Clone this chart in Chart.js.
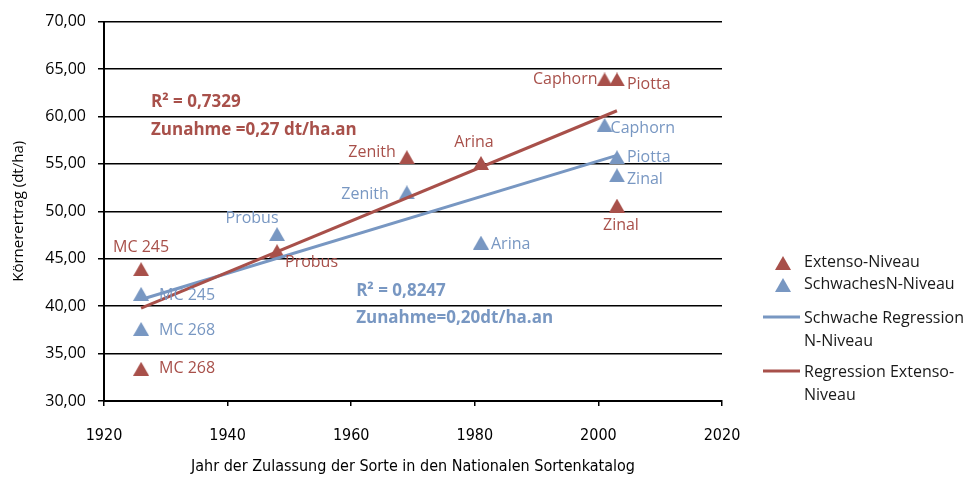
<!DOCTYPE html>
<html>
<head>
<meta charset="utf-8">
<script src="https://cdn.jsdelivr.net/npm/chart.js@4"></script>
<style>
  body { margin: 0; background: #fff; }
  #wrap { width: 968px; height: 480px; }
</style>
</head>
<body>
<div id="wrap"><canvas id="chart" width="968" height="480"></canvas></div>
<script>
// Sorten, Zulassungsjahr und Erträge (dt/ha)
const varieties = ['MC 245', 'MC 268', 'Probus', 'Zenith', 'Arina', 'Caphorn', 'Piotta', 'Zinal'];
const years = [1926, 1926, 1948, 1969, 1981, 2001, 2003, 2003];
const extensoYield = [43.9, 33.4, 45.8, 55.7, 55.1, 63.9, 63.9, 50.6];
const schwachYield = [41.3, 37.6, 47.6, 52.0, 46.7, 59.1, 55.7, 53.8];

const regYears = [1926, 2003];
const regExtenso = [39.8, 60.6];
const regSchwach = [40.7, 55.9];

const xTicks = [1920, 1940, 1960, 1980, 2000, 2020];
const yTicks = [30, 35, 40, 45, 50, 55, 60, 65, 70];

const RED = '#A8504A';
const BLUE = '#7897C2';
const NARROW = '"DejaVu Sans Condensed", "Roboto", sans-serif';

// label placement next to each point: [dx, dy, align]
const extensoLabelPos = [
  [0, -22, 'center'], [18, 0, 'left'], [8, 11, 'left'], [-11, -5, 'right'],
  [-7, -20, 'center'], [-7, 0, 'right'], [10, 5, 'left'], [4, 20, 'center']
];
const schwachLabelPos = [
  [18, 2, 'left'], [18, 2, 'left'], [-25, -16, 'center'], [-18, 2, 'right'],
  [10, 2, 'left'], [6, 3, 'left'], [10, 0, 'left'], [10, 4, 'left']
];

const toPoints = (xs, ys) => xs.map((x, i) => ({ x: x, y: ys[i] }));

// triangle marker centred on its box (like the original), as an image point style
function triangleMarker(color, w, h) {
  const c = document.createElement('canvas');
  c.width = w; c.height = h;
  const g = c.getContext('2d');
  g.fillStyle = color;
  g.beginPath();
  g.moveTo(w / 2, 0);
  g.lineTo(w, h);
  g.lineTo(0, h);
  g.closePath();
  g.fill();
  return c;
}
const redMarker = triangleMarker(RED, 16, 14);
const blueMarker = triangleMarker(BLUE, 16, 14);

const pointLabels = {
  id: 'pointLabels',
  afterDatasetsDraw(chart) {
    const ctx = chart.ctx;
    ctx.save();
    ctx.font = '16px "Open Sans"';
    ctx.textBaseline = 'middle';
    [[0, extensoLabelPos, RED], [1, schwachLabelPos, BLUE]].forEach(([di, pos, col]) => {
      const meta = chart.getDatasetMeta(di);
      ctx.fillStyle = col;
      meta.data.forEach((pt, i) => {
        ctx.textAlign = pos[i][2];
        ctx.fillText(varieties[i], pt.x + pos[i][0], pt.y + pos[i][1]);
      });
    });

    // R² / Zunahme
    const xs = chart.scales.x, ys = chart.scales.y;
    ctx.font = 'bold 17px "Open Sans"';
    ctx.textAlign = 'left';
    ctx.fillStyle = RED;
    ctx.fillText('R² = 0,7329', xs.getPixelForValue(1927.6), ys.getPixelForValue(61.5));
    ctx.fillText('Zunahme =0,27 dt/ha.an', xs.getPixelForValue(1927.6), ys.getPixelForValue(58.55));
    ctx.fillStyle = BLUE;
    ctx.fillText('R² = 0,8247', xs.getPixelForValue(1960.8), ys.getPixelForValue(41.55));
    ctx.fillText('Zunahme=0,20dt/ha.an', xs.getPixelForValue(1960.8), ys.getPixelForValue(38.7));
    ctx.restore();
  }
};

const sideLegend = {
  id: 'sideLegend',
  afterDraw(chart) {
    const ctx = chart.ctx;
    ctx.save();
    ctx.font = '16px "Open Sans"';
    ctx.textBaseline = 'middle';
    ctx.textAlign = 'left';
    ctx.fillStyle = '#1a1a1a';
    const tx = 804;
    ctx.drawImage(redMarker, 775, 256);
    ctx.fillText('Extenso-Niveau', tx, 262);
    ctx.drawImage(blueMarker, 775, 278);
    ctx.fillText('SchwachesN-Niveau', tx, 284);

    ctx.lineWidth = 3;
    ctx.strokeStyle = BLUE;
    ctx.beginPath(); ctx.moveTo(763, 317); ctx.lineTo(800, 317); ctx.stroke();
    ctx.fillText('Schwache Regression', tx, 318);
    ctx.fillText('N-Niveau', tx, 341);

    ctx.strokeStyle = RED;
    ctx.beginPath(); ctx.moveTo(763, 371); ctx.lineTo(800, 371); ctx.stroke();
    ctx.fillText('Regression Extenso-', tx, 372);
    ctx.fillText('Niveau', tx, 395);
    ctx.restore();
  }
};

new Chart(document.getElementById('chart'), {
  type: 'scatter',
  data: {
    datasets: [
      {
        label: 'Extenso-Niveau',
        data: toPoints(years, extensoYield),
        pointStyle: redMarker,
        backgroundColor: RED,
        borderColor: RED,
        order: 3,
      },
      {
        label: 'SchwachesN-Niveau',
        data: toPoints(years, schwachYield),
        pointStyle: blueMarker,
        backgroundColor: BLUE,
        borderColor: BLUE,
        order: 2,
      },
      {
        label: 'Schwache Regression N-Niveau',
        data: toPoints(regYears, regSchwach),
        showLine: true,
        pointRadius: 0,
        borderColor: BLUE,
        borderWidth: 3,
        order: 1,
      },
      {
        label: 'Regression Extenso-Niveau',
        data: toPoints(regYears, regExtenso),
        showLine: true,
        pointRadius: 0,
        borderColor: RED,
        borderWidth: 3,
        order: 0,
      },
    ],
  },
  options: {
    responsive: false,
    animation: false,
    events: [],
    layout: { padding: { top: 20, right: 246, left: 0, bottom: 0 } },
    plugins: {
      legend: { display: false },
      tooltip: { enabled: false },
    },
    scales: {
      x: {
        type: 'linear',
        min: 1920,
        max: 2020,
        afterFit: (s) => { s.height = 79; },
        afterBuildTicks: (s) => { s.ticks = xTicks.map(v => ({ value: v })); },
        ticks: {
          color: '#000',
          padding: 20,
          font: { family: NARROW, size: 16 },
          callback: (v) => String(v),
        },
        grid: { drawOnChartArea: false, drawTicks: true, tickLength: 5, color: '#000', lineWidth: 1.5 },
        border: { display: true, color: '#000', width: 2 },
        title: {
          display: true,
          text: 'Jahr der Zulassung der Sorte in den Nationalen Sortenkatalog',
          color: '#000',
          font: { family: NARROW, size: 16 },
          padding: 4,
        },
      },
      y: {
        min: 30,
        max: 70,
        afterFit: (s) => { s.width = 104; },
        afterBuildTicks: (s) => { s.ticks = yTicks.map(v => ({ value: v })); },
        ticks: {
          color: '#000',
          padding: 12,
          font: { family: '"Open Sans"', size: 16 },
          callback: (v) => v.toFixed(2).replace('.', ','),
        },
        grid: { color: '#000', lineWidth: 1.5, tickLength: 6 },
        border: { display: true, color: '#000', width: 2 },
        title: {
          display: true,
          text: 'Körnerertrag (dt/ha)',
          color: '#000',
          font: { family: '"Open Sans"', size: 15 },
          padding: 10,
        },
      },
    },
  },
  plugins: [pointLabels, sideLegend],
});
</script>
</body>
</html>
